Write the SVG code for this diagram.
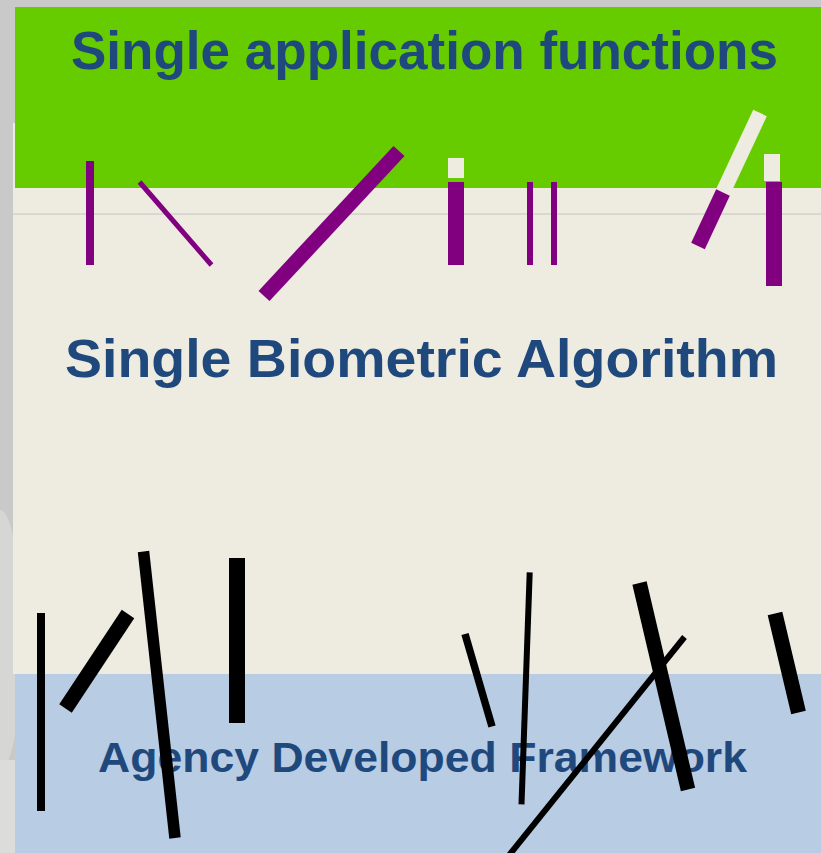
<svg xmlns="http://www.w3.org/2000/svg" width="821" height="853" viewBox="0 0 821 853">
<style>
.t{font-family:"Liberation Sans",Arial,sans-serif;font-weight:bold;fill:#1f497d}
.p{stroke:#800080;fill:none;stroke-linecap:butt}
.k{stroke:#000;fill:none;stroke-linecap:butt}
.pf{fill:#800080}
.bf{fill:#eeebe0}
</style>
<g id="background">
<rect x="0" y="0" width="821" height="853" fill="#c9c9c9"/>
<ellipse cx="0" cy="640" rx="22" ry="130" fill="#d6d6d4"/>
<rect x="0" y="760" width="15" height="93" fill="#dcdcda"/>
<rect x="13" y="123" width="808" height="551" fill="#eeebe0"/>
<rect x="15" y="7" width="806" height="181" fill="#66cc00"/>
<rect x="15" y="674" width="806" height="179" fill="#b8cce4"/>
<line x1="13" y1="214" x2="821" y2="214" stroke="#c4c4c4" stroke-width="1"/>
</g>
<g id="label-top">
<text class="t" x="71" y="69" font-size="54" textLength="707" lengthAdjust="spacingAndGlyphs">Single application functions</text>
</g>
<g id="label-middle">
<text class="t" x="65" y="377" font-size="54" textLength="713" lengthAdjust="spacingAndGlyphs">Single Biometric Algorithm</text>
</g>
<g id="label-bottom">
<text class="t" x="98" y="772" font-size="43" textLength="649" lengthAdjust="spacingAndGlyphs">Agency Developed Framework</text>
</g>
<g id="purple-sticks">
<rect class="pf" x="86" y="161" width="8" height="104"/>
<line class="p" x1="139.5" y1="182" x2="211.5" y2="265" stroke-width="5"/>
<line class="p" x1="264" y1="296" x2="399" y2="151" stroke-width="15"/>
<rect class="bf" x="448" y="158" width="16" height="20"/>
<rect class="pf" x="448" y="182" width="16" height="83"/>
<rect class="pf" x="527" y="182" width="6" height="83"/>
<rect class="pf" x="551" y="182" width="6" height="83"/>
<line x1="760" y1="113" x2="723.5" y2="191" stroke="#eeebe0" stroke-width="15"/>
<line class="p" x1="723" y1="192.5" x2="698" y2="246" stroke-width="15"/>
<rect class="bf" x="764" y="154" width="16" height="27"/>
<rect class="pf" x="766" y="182" width="16" height="104"/>
</g>
<g id="black-sticks">
<rect x="37" y="613" width="8" height="198" fill="#000"/>
<line class="k" x1="65.5" y1="708.5" x2="128" y2="614" stroke-width="15"/>
<line class="k" x1="143.5" y1="551.5" x2="175" y2="838" stroke-width="11.5"/>
<rect x="229" y="558" width="16" height="165" fill="#000"/>
<line class="k" x1="465" y1="634" x2="492" y2="726.5" stroke-width="7.5"/>
<line class="k" x1="529.7" y1="572.3" x2="521.5" y2="804.3" stroke-width="6"/>
<line class="k" x1="684.5" y1="637" x2="494" y2="874" stroke-width="6"/>
<line class="k" x1="639.5" y1="583" x2="688" y2="789.5" stroke-width="14.6"/>
<line class="k" x1="775" y1="613.5" x2="798.5" y2="712.5" stroke-width="15"/>
</g>
</svg>
